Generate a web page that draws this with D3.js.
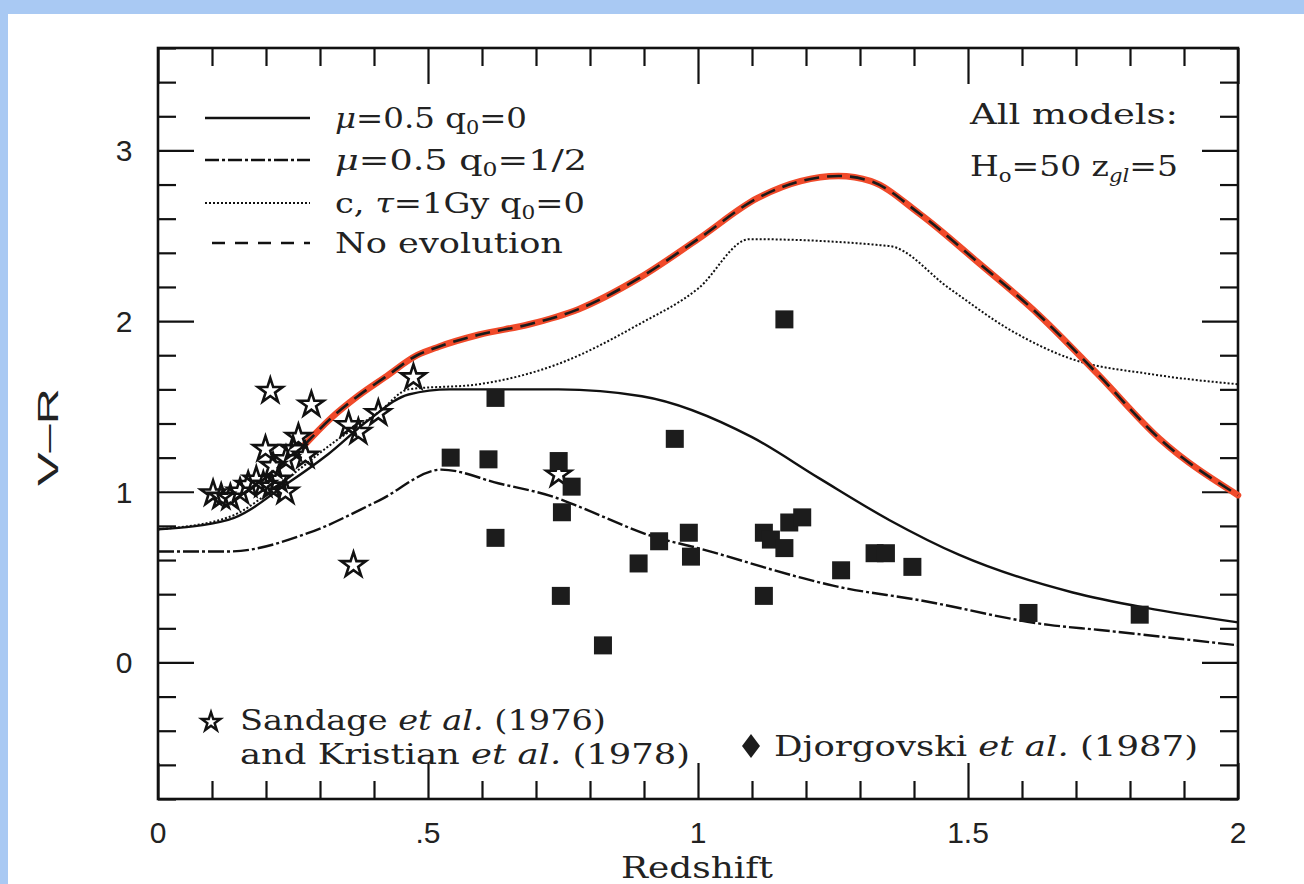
<!DOCTYPE html>
<html><head><meta charset="utf-8">
<script src="https://cdn.jsdelivr.net/npm/d3@7"></script>
<style>
html,body{margin:0;padding:0;background:#fff;}
svg{display:block;}
</style></head>
<body>
<svg id="chart" width="1304" height="884"></svg>
<script>
// ---- data ----
const zNoEvol  = [0.27,0.32,0.37,0.42,0.48,0.52,0.594,0.686,0.779,0.89,1.0,1.11,1.19,1.26,1.32,1.41,1.52,1.63,1.74,1.855,2.0];
const vrNoEvol = [1.27,1.43,1.56,1.67,1.80,1.85,1.92,1.98,2.07,2.25,2.48,2.72,2.82,2.85,2.82,2.63,2.34,2.04,1.69,1.31,0.98];

const zMuQ0  = [0,0.13,0.24,0.315,0.39,0.464,0.54,0.742,0.896,1.10,1.224,1.354,1.484,1.694,1.83,2.0];
const vrMuQ0 = [0.78,0.835,1.05,1.22,1.42,1.57,1.60,1.60,1.56,1.32,1.08,0.835,0.63,0.41,0.32,0.235];

const zMuQhalf  = [0,0.13,0.28,0.41,0.525,0.63,0.737,0.774,0.92,1.0,1.187,1.25,1.41,1.65,1.744,2.0];
const vrMuQhalf = [0.65,0.65,0.76,0.95,1.13,1.05,0.965,0.92,0.735,0.67,0.50,0.45,0.365,0.22,0.19,0.10];

const zTau1  = [0,0.13,0.24,0.33,0.41,0.464,0.594,0.742,0.89,1.0,1.095,1.354,1.466,1.577,1.69,1.837,2.0];
const vrTau1 = [0.78,0.85,1.08,1.30,1.47,1.60,1.63,1.75,1.98,2.19,2.48,2.44,2.19,1.95,1.78,1.69,1.63];

const zSandage  = [0.208,0.284,0.26,0.199,0.237,0.25,0.273,0.213,0.102,0.117,0.134,0.152,0.167,0.182,0.195,0.21,0.223,0.236,0.371,0.353,0.408,0.473,0.362,0.742];
const vrSandage = [1.59,1.51,1.32,1.25,1.19,1.25,1.21,1.15,0.99,0.97,0.965,1.0,1.04,1.07,1.04,1.03,1.07,1.0,1.35,1.39,1.46,1.67,0.57,1.10];

const zDjorg  = [0.542,0.612,0.625,0.625,0.742,0.766,0.748,0.746,0.824,0.89,0.928,0.957,0.983,0.987,1.122,1.135,1.16,1.169,1.193,1.16,1.122,1.265,1.327,1.348,1.397,1.612,1.818];
const vrDjorg = [1.20,1.19,1.55,0.73,1.18,1.03,0.88,0.39,0.10,0.58,0.71,1.31,0.76,0.62,0.76,0.72,0.67,0.82,0.85,2.01,0.39,0.54,0.64,0.64,0.56,0.29,0.28];

const xTickVals   = [0,0.5,1,1.5,2];
const xTickLabels = ["0",".5","1","1.5","2"];
const yTickVals   = [0,1,2,3];
const yTickLabels = ["0","1","2","3"];

// ---- layout ----
const W = 1304, H = 884;
const L = 158, R = 1238, T = 48, B = 799;
const svg = d3.select("#chart");

// slide background border
svg.append("rect").attr("x",0).attr("y",0).attr("width",W).attr("height",H).attr("fill","#fff");
svg.append("rect").attr("x",0).attr("y",0).attr("width",W).attr("height",14).attr("fill","#a9c9f3");
svg.append("rect").attr("x",0).attr("y",0).attr("width",8).attr("height",H).attr("fill","#a9c9f3");

const x = d3.scaleLinear().domain([0,2]).range([L,R]);
const y = d3.scaleLinear().domain([-0.8,3.6]).range([B,T]);

const minorX = d3.range(0,21).map(i=>i/10);
const minorY = d3.range(-4,19).map(i=>i/5);
const isMajorX = v => Math.abs(v*2 - Math.round(v*2)) < 1e-6;
const isMajorY = v => Math.abs(v - Math.round(v)) < 1e-6;

const majLen = 36, minLen = 18;
const axisColor = "#111";

function tickAxis(axisGen, transform, isMajor) {
  const g = svg.append("g").attr("transform", transform).call(axisGen);
  g.select(".domain").remove();
  g.selectAll(".tick line")
    .attr("stroke", axisColor).attr("stroke-width", 2.2)
    .each(function(d){
      const el = d3.select(this);
      const len = isMajor(d) ? majLen : minLen;
      if (el.attr("x2") !== null && +el.attr("x2") !== 0) el.attr("x2", Math.sign(+el.attr("x2"))*len);
      if (el.attr("y2") !== null && +el.attr("y2") !== 0) el.attr("y2", Math.sign(+el.attr("y2"))*len);
    });
  g.selectAll(".tick text").remove();
  return g;
}
// inward ticks on all four sides
tickAxis(d3.axisTop(x).tickValues(minorX).tickSizeOuter(0), `translate(0,${B})`, isMajorX);
tickAxis(d3.axisBottom(x).tickValues(minorX).tickSizeOuter(0), `translate(0,${T})`, isMajorX);
tickAxis(d3.axisRight(y).tickValues(minorY).tickSizeOuter(0), `translate(${L},0)`, isMajorY);
tickAxis(d3.axisLeft(y).tickValues(minorY).tickSizeOuter(0), `translate(${R},0)`, isMajorY);

// frame
svg.append("rect").attr("x",L).attr("y",T).attr("width",R-L).attr("height",B-T)
  .attr("fill","none").attr("stroke",axisColor).attr("stroke-width",2.6);

// tick labels
const tickFont = "'Liberation Sans', Arial, sans-serif";
svg.append("g").selectAll("text").data(xTickVals).join("text")
  .attr("x", d=>x(d)).attr("y", 843).attr("text-anchor","middle")
  .attr("font-family", tickFont).attr("font-size", 30).attr("fill","#222")
  .text((d,i)=>xTickLabels[i]);
svg.append("g").selectAll("text").data(yTickVals).join("text")
  .attr("x", 124).attr("y", d=>y(d)+11).attr("text-anchor","middle")
  .attr("font-family", tickFont).attr("font-size", 30).attr("fill","#222")
  .text((d,i)=>yTickLabels[i]);

// axis titles
svg.append("text").attr("x", 697).attr("y", 878).attr("text-anchor","middle")
  .attr("font-family","'DejaVu Serif', serif").attr("font-size", 30).attr("fill","#222")
  .attr("textLength",152).attr("lengthAdjust","spacingAndGlyphs").text("Redshift");
svg.append("text").attr("transform","translate(58,437) rotate(-90)").attr("text-anchor","middle")
  .attr("font-family", tickFont).attr("font-size", 29).attr("fill","#222")
  .attr("textLength",98).attr("lengthAdjust","spacingAndGlyphs").text("V\u2013R");

// ---- curves ----
const line = d3.line().x(d=>x(d[0])).y(d=>y(d[1])).curve(d3.curveMonotoneX);
const zip = (a,b) => a.map((v,i)=>[v,b[i]]);
const plot = svg.append("g");

plot.append("path").datum(zip(zMuQ0,vrMuQ0)).attr("d",line)
  .attr("fill","none").attr("stroke","#111").attr("stroke-width",2.4);
plot.append("path").datum(zip(zMuQhalf,vrMuQhalf)).attr("d",line)
  .attr("fill","none").attr("stroke","#111").attr("stroke-width",2.4)
  .attr("stroke-dasharray","16,3,3,3");
plot.append("path").datum(zip(zTau1,vrTau1)).attr("d",line)
  .attr("fill","none").attr("stroke","#111").attr("stroke-width",2)
  .attr("stroke-dasharray","2,2");
plot.append("path").datum(zip(zNoEvol,vrNoEvol)).attr("d",line)
  .attr("fill","none").attr("stroke","#f04a2a").attr("stroke-width",6.5).attr("stroke-linecap","round");
plot.append("path").datum(zip(zNoEvol,vrNoEvol)).attr("d",line)
  .attr("fill","none").attr("stroke","#1a1a1a").attr("stroke-width",2.6)
  .attr("stroke-dasharray","15,8");

// ---- points ----
const star = d3.symbol().type(d3.symbolStar).size(190);
plot.append("g").selectAll("path").data(zip(zSandage,vrSandage)).join("path")
  .attr("d", star).attr("transform", d=>`translate(${x(d[0])},${y(d[1])})`)
  .attr("fill","none").attr("stroke","#111").attr("stroke-width",2.6).attr("stroke-linejoin","miter");

const sq = 18;
plot.append("g").selectAll("rect").data(zip(zDjorg,vrDjorg)).join("rect")
  .attr("x", d=>x(d[0])-sq/2).attr("y", d=>y(d[1])-sq/2).attr("width",sq).attr("height",sq)
  .attr("fill","#1c1c1c");

// ---- legend (top-left) ----
const legFont = "'DejaVu Serif', serif";
const legRows = [
  {y:118, dash:null, w:2.4},
  {y:160, dash:"14,3,3,3", w:2.4},
  {y:203, dash:"2,2", w:2},
  {y:243, dash:"13,10", w:2.6}
];
legRows.forEach(r=>{
  svg.append("line").attr("x1", r.dash==="13,10"?212:205).attr("x2",310).attr("y1",r.y).attr("y2",r.y)
    .attr("stroke","#111").attr("stroke-width",r.w).attr("stroke-dasharray",r.dash);
});
function legText(yy, parts, len){
  const t = svg.append("text").attr("x",335).attr("y",yy+10)
    .attr("font-family",legFont).attr("font-size",28).attr("fill","#222");
  parts.forEach(p=>{
    const s = t.append("tspan").text(p.t);
    if (p.sub) s.attr("font-size",18).attr("dy",6);
    if (p.up) s.attr("dy",-6);
    if (p.it) s.attr("font-style","italic");
  });
  if (len) t.attr("textLength",len).attr("lengthAdjust","spacingAndGlyphs");
  return t;
}
legText(118, [{t:"\u03bc",it:true},{t:"=0.5  q"},{t:"0",sub:true},{t:"=0",up:true}], 192);
legText(160, [{t:"\u03bc",it:true},{t:"=0.5  q"},{t:"0",sub:true},{t:"=1/2",up:true}], 252);
legText(203, [{t:"c, "},{t:"\u03c4",it:true},{t:"=1Gy q"},{t:"0",sub:true},{t:"=0",up:true}], 250);
legText(243, [{t:"No evolution"}], 228);

// All models box
svg.append("text").attr("x",970).attr("y",124)
  .attr("font-family",legFont).attr("font-size",28).attr("fill","#222")
  .attr("textLength",208).attr("lengthAdjust","spacingAndGlyphs").text("All models:");
const hm = svg.append("text").attr("x",970).attr("y",176)
  .attr("font-family",legFont).attr("font-size",28).attr("fill","#222");
hm.append("tspan").text("H");
hm.append("tspan").text("o").attr("font-size",18).attr("dy",6);
hm.append("tspan").text("=50  z").attr("dy",-6);
hm.append("tspan").text("gl").attr("font-size",18).attr("dy",6).attr("font-style","italic");
hm.append("tspan").text("=5").attr("dy",-6);
hm.attr("textLength",208).attr("lengthAdjust","spacingAndGlyphs");

// ---- bottom legend ----
const botFont = "'DejaVu Serif', serif";
svg.append("path").attr("d", d3.symbol().type(d3.symbolStar).size(110))
  .attr("transform","translate(211,722)").attr("fill","none").attr("stroke","#111").attr("stroke-width",2.4);
const s1 = svg.append("text").attr("x",240).attr("y",730).attr("font-family",botFont).attr("font-size",28).attr("fill","#222");
s1.append("tspan").text("Sandage ");
s1.append("tspan").text("et al.").attr("font-style","italic");
s1.append("tspan").text(" (1976)");
s1.attr("textLength",366).attr("lengthAdjust","spacingAndGlyphs");
const s2 = svg.append("text").attr("x",240).attr("y",764).attr("font-family",botFont).attr("font-size",28).attr("fill","#222");
s2.append("tspan").text("and Kristian ");
s2.append("tspan").text("et al.").attr("font-style","italic");
s2.append("tspan").text(" (1978)");
s2.attr("textLength",450).attr("lengthAdjust","spacingAndGlyphs");

svg.append("path").attr("d","M751,734 L760,746 L751,758 L742,746 Z").attr("fill","#1c1c1c");
const s3 = svg.append("text").attr("x",774).attr("y",756).attr("font-family",botFont).attr("font-size",28).attr("fill","#222");
s3.append("tspan").text("Djorgovski ");
s3.append("tspan").text("et al.").attr("font-style","italic");
s3.append("tspan").text(" (1987)");
s3.attr("textLength",424).attr("lengthAdjust","spacingAndGlyphs");
</script>
</body></html>
